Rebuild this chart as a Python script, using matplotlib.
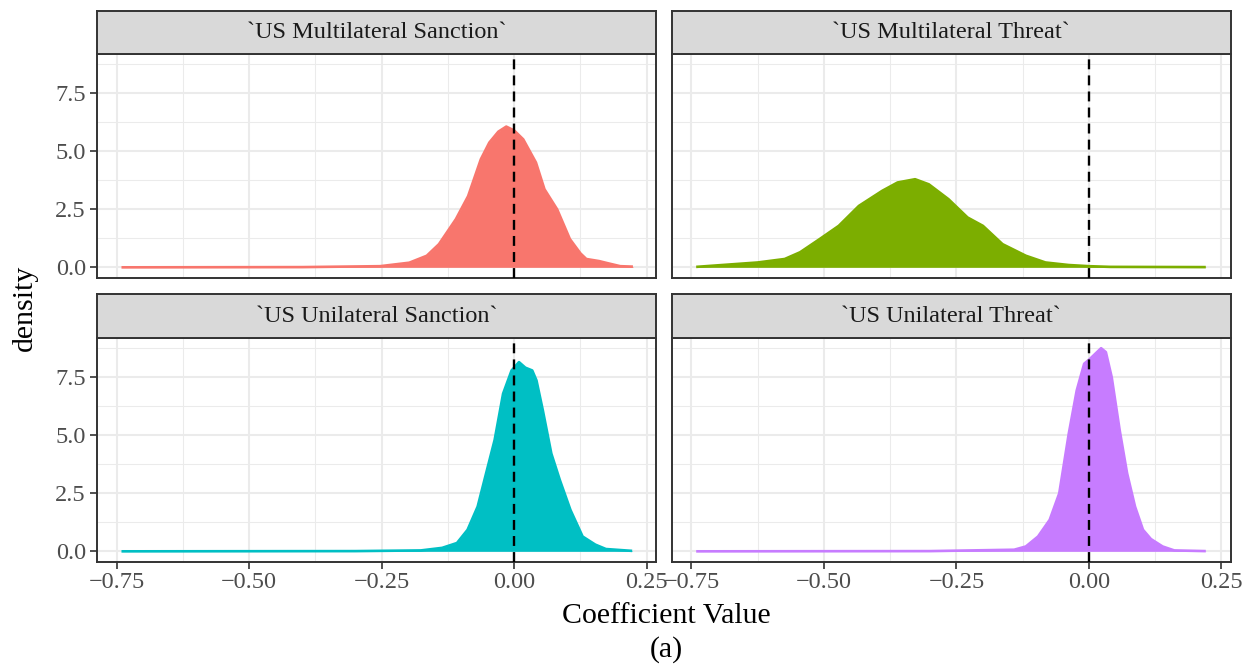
import matplotlib
matplotlib.use("Agg")
import matplotlib.pyplot as plt
from matplotlib.ticker import FixedLocator

plt.rcParams['font.family'] = ['Liberation Serif', 'DejaVu Serif']

# ---------------- data ----------------
panel_titles = ["`US Multilateral Sanction`", "`US Multilateral Threat`",
                "`US Unilateral Sanction`", "`US Unilateral Threat`"]
panel_colors = ["#F8766D", "#7CAE00", "#00BFC4", "#C77CFF"]

ms_x = [-0.741, -0.40, -0.253, -0.198, -0.165, -0.142, -0.11, -0.087, -0.063, -0.047,
        -0.030, -0.015, 0.0, 0.017, 0.041, 0.057, 0.081, 0.105, 0.125, 0.136, 0.16, 0.176,
        0.2, 0.224]
ms_y = [0.0, 0.01, 0.05, 0.2, 0.5, 1.0, 2.08, 3.07, 4.66, 5.38,
        5.85, 6.07, 5.9, 5.52, 4.52, 3.37, 2.5, 1.22, 0.6, 0.36, 0.27, 0.18,
        0.05, 0.03]

mt_x = [-0.741, -0.625, -0.574, -0.545, -0.508, -0.472, -0.434, -0.39, -0.361, -0.328,
        -0.302, -0.265, -0.229, -0.2, -0.163, -0.119, -0.082, -0.038, 0.0, 0.04, 0.2205]
mt_y = [0.02, 0.21, 0.36, 0.65, 1.22, 1.79, 2.65, 3.3, 3.66, 3.8,
        3.58, 2.94, 2.15, 1.79, 1.0, 0.5, 0.21, 0.1, 0.05, 0.02, 0.01]

us_x = [-0.741, -0.30, -0.176, -0.136, -0.108, -0.088, -0.069, -0.053, -0.037, -0.021,
        -0.005, 0.009, 0.021, 0.034, 0.042, 0.054, 0.07, 0.086, 0.106, 0.129, 0.153,
        0.173, 0.2225]
us_y = [0.0, 0.01, 0.04, 0.15, 0.36, 0.93, 1.93, 3.37, 4.8, 6.8,
        7.8, 8.16, 7.92, 7.8, 7.37, 6.08, 4.22, 3.08, 1.79, 0.64, 0.29,
        0.1, 0.02]

ut_x = [-0.741, -0.30, -0.141, -0.119, -0.096, -0.074, -0.056, -0.038, -0.023, -0.009,
        0.002, 0.012, 0.023, 0.032, 0.043, 0.058, 0.072, 0.087, 0.102, 0.117, 0.139,
        0.161, 0.2205]
ut_y = [0.0, 0.01, 0.07, 0.21, 0.64, 1.36, 2.5, 5.08, 6.94, 8.09,
        8.3, 8.52, 8.76, 8.59, 7.51, 5.23, 3.37, 1.93, 0.93, 0.53, 0.21,
        0.04, 0.01]

series_x = [ms_x, mt_x, us_x, ut_x]
series_y = [ms_y, mt_y, us_y, ut_y]

x_ticks = [-0.75, -0.50, -0.25, 0.00, 0.25]
x_ticklabels = ["\u22120.75", "\u22120.50", "\u22120.25", "0.00", "0.25"]
x_minor = [-0.625, -0.375, -0.125, 0.125]
y_ticks = [0.0, 2.5, 5.0, 7.5]
y_ticklabels = ["0.0", "2.5", "5.0", "7.5"]
y_minor = [1.25, 3.75, 6.25, 8.75]
ref_line = 0.0

# ---------------- layout ----------------
W, H = 1252, 665
fig = plt.figure(figsize=(W / 100, H / 100), dpi=100)

col_left = [97, 671.7]
col_w = 559
rows = [(54.0, 277.5, 10.7), (338.0, 561.5, 294.0)]  # panel top, panel bottom, strip top

grid_col = "#EBEBEB"
frame_col = "#333333"
xlim = (-0.7872, 0.2675)
ylim = (-0.438, 9.2)

for i in range(4):
    r, c = divmod(i, 2)
    ptop, pbot, stop = rows[r]
    x0 = col_left[c]
    ax = fig.add_axes([x0 / W, 1 - pbot / H, col_w / W, (pbot - ptop) / H])
    sax = fig.add_axes([x0 / W, 1 - ptop / H, col_w / W, (ptop - stop) / H])

    ax.set_xlim(*xlim)
    ax.set_ylim(*ylim)
    ax.set_xticks(x_ticks)
    ax.xaxis.set_minor_locator(FixedLocator(x_minor))
    ax.set_yticks(y_ticks)
    ax.yaxis.set_minor_locator(FixedLocator(y_minor))
    ax.grid(True, which="major", color=grid_col, lw=1.5, zorder=0)
    ax.grid(True, which="minor", color=grid_col, lw=0.75, zorder=0)
    ax.set_axisbelow(True)
    ax.tick_params(which="minor", length=0)
    ax.tick_params(which="major", length=5, width=1.2, color=frame_col,
                   labelsize=17.5, labelcolor="#4D4D4D")
    ax.tick_params(axis="y", pad=3)
    ax.tick_params(axis="x", pad=2.5)
    if c == 0:
        ax.set_yticklabels(y_ticklabels)
    else:
        ax.tick_params(axis="y", length=0, labelleft=False)
    if r == 1:
        ax.set_xticklabels(x_ticklabels)
    else:
        ax.tick_params(axis="x", length=0, labelbottom=False)
    for sp in ax.spines.values():
        sp.set_color(frame_col)
        sp.set_linewidth(1.4)

    col = panel_colors[i]
    ax.fill_between(series_x[i], 0, series_y[i], color=col, lw=0, zorder=2)
    ax.plot(series_x[i], series_y[i], color=col, lw=1.9, zorder=3,
            solid_joinstyle="round", solid_capstyle="butt")
    ax.axvline(ref_line, color="black", lw=1.7, ls=(0, (4.2, 2.6)), zorder=4)

    sax.set_facecolor("#D9D9D9")
    sax.set_xticks([])
    sax.set_yticks([])
    for sp in sax.spines.values():
        sp.set_color(frame_col)
        sp.set_linewidth(1.4)
    sax.text(0.5, 0.5, panel_titles[i], ha="center", va="center",
             fontsize=17.5, color="#1A1A1A", transform=sax.transAxes)

fig.text(666 / W, 1 - 616 / H, "Coefficient Value", ha="center", va="center",
         fontsize=21.5, color="black")
fig.text(666 / W, 1 - 650 / H, "(a)", ha="center", va="center",
         fontsize=21.5, color="black")
fig.text(25 / W, 1 - 308 / H, "density", ha="center", va="center",
         rotation=90, fontsize=21.5, color="black")

fig.savefig("out.png", dpi=100)
